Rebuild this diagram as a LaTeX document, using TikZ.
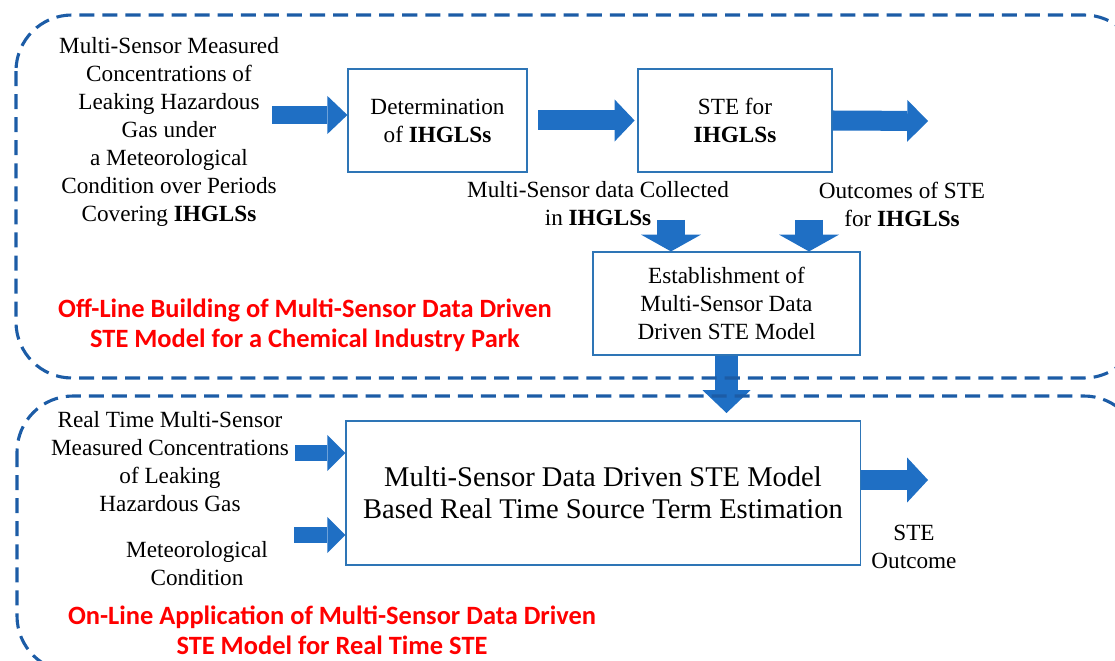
\documentclass[tikz,border=0pt]{standalone}
\usepackage{fontspec}
\setmainfont{Liberation Serif}
\newfontfamily\calibri{Carlito}
\usetikzlibrary{arrows.meta, positioning}
\definecolor{flowblue}{RGB}{31,111,196}
\definecolor{boxblue}{RGB}{46,117,182}
\definecolor{dashblue}{RGB}{28,92,166}

\begin{document}
\begin{tikzpicture}[
    x=0.025cm, y=-0.025cm,
    txt/.style={align=center, inner sep=0pt, font=\fontsize{16.5}{19.9}\selectfont},
    process/.style={rectangle, draw=boxblue, line width=0.8pt, txt},
    redtxt/.style={align=center, inner sep=0pt, text=red, font=\calibri\bfseries\fontsize{18.8}{21.3}\selectfont},
    fatarrow/.style n args={3}{draw=flowblue, line width=#1, -{Triangle[width=#2, length=#3, line width=0pt]}},
    dashbox/.style={draw=dashblue, line width=2.2pt, dash pattern=on 10.7pt off 5.7pt, rounded corners=1.4cm}
]
    \useasboundingbox (0,0) rectangle (1115,661);
    \clip (0,0) rectangle (1115,661);

    % off-line part
    \node (gasin) [txt] at (169,132) {Multi-Sensor Measured\\Concentrations of\\Leaking Hazardous\\Gas under\\a Meteorological\\Condition over Periods\\Covering \textbf{IHGLSs}};
    \node (determ) [process, minimum width=4.475cm, minimum height=2.575cm] at (437.5,120.5) {Determination\\of \textbf{IHGLSs}};
    \node (stefor) [process, minimum width=4.85cm, minimum height=2.575cm] at (735,120.5) {STE for\\\textbf{IHGLSs}};
    \node (collected) [txt] at (598,204) {Multi-Sensor data Collected\\in \textbf{IHGLSs}};
    \node (outcomes) [txt] at (902,204) {Outcomes of STE\\for \textbf{IHGLSs}};
    \node (establish) [process, minimum width=6.675cm, minimum height=2.575cm] at (726.5,303.5) {Establishment of\\Multi-Sensor Data\\Driven STE Model};
    \node (offline) [redtxt] at (305,325) {Off-Line Building of Multi-Sensor Data Driven\\STE Model for a Chemical Industry Park};

    % on-line part
    \node (rtgas) [txt] at (170,462) {Real Time Multi-Sensor\\Measured Concentrations\\of Leaking\\Hazardous Gas};
    \node (meteo) [txt] at (197,564) {Meteorological\\Condition};
    \node (stemodel) [process, minimum width=12.85cm, minimum height=3.6cm, font=\fontsize{20.3}{22.7}\selectfont] at (603,493) {Multi-Sensor Data Driven STE Model\\Based Real Time Source Term Estimation};
    \node (steout) [txt] at (914,547) {STE\\Outcome};
    \node (online) [redtxt] at (332,630) {On-Line Application of Multi-Sensor Data Driven\\STE Model for Real Time STE};

    \coordinate (gasarrow) at (272,115);
    \coordinate (topout) at (928,121);
    \coordinate (colldown) at (671,220);
    \coordinate (outdown) at (809,220);
    \coordinate (modeldown) at (726.5,413);
    \coordinate (rtarrow) at (295,453);
    \coordinate (metarrow) at (294,535);
    \coordinate (finalout) at (928,480);

    \draw [fatarrow={0.45cm}{0.95cm}{0.5cm}] (gasarrow) -- (gasarrow -| determ.west);
    \draw [fatarrow={0.5cm}{1.05cm}{0.5cm}, shorten <=0.27cm, shorten >=0.07cm] (determ.east) -- (stefor.west);
    \draw [fatarrow={0.5cm}{1.05cm}{0.52cm}] (stefor.east) -- (topout);
    \draw [fatarrow={0.7cm}{1.5cm}{0.42cm}] (colldown) -- (colldown |- establish.north);
    \draw [fatarrow={0.7cm}{1.5cm}{0.42cm}] (outdown) -- (outdown |- establish.north);
    \draw [fatarrow={0.57cm}{1.2cm}{0.57cm}] (establish.south) -- (modeldown);
    \draw [fatarrow={0.42cm}{0.9cm}{0.45cm}] (rtarrow) -- (rtarrow -| stemodel.west);
    \draw [fatarrow={0.42cm}{0.9cm}{0.45cm}] (metarrow) -- (metarrow -| stemodel.west);
    \draw [fatarrow={0.5cm}{1.12cm}{0.52cm}] (stemodel.east |- finalout) -- (finalout);

    % dashed frames
    \draw [dashbox] (16,15) rectangle (1140,378);
    \draw [dashbox] (17,396) rectangle (1140,672);
\end{tikzpicture}
\end{document}
